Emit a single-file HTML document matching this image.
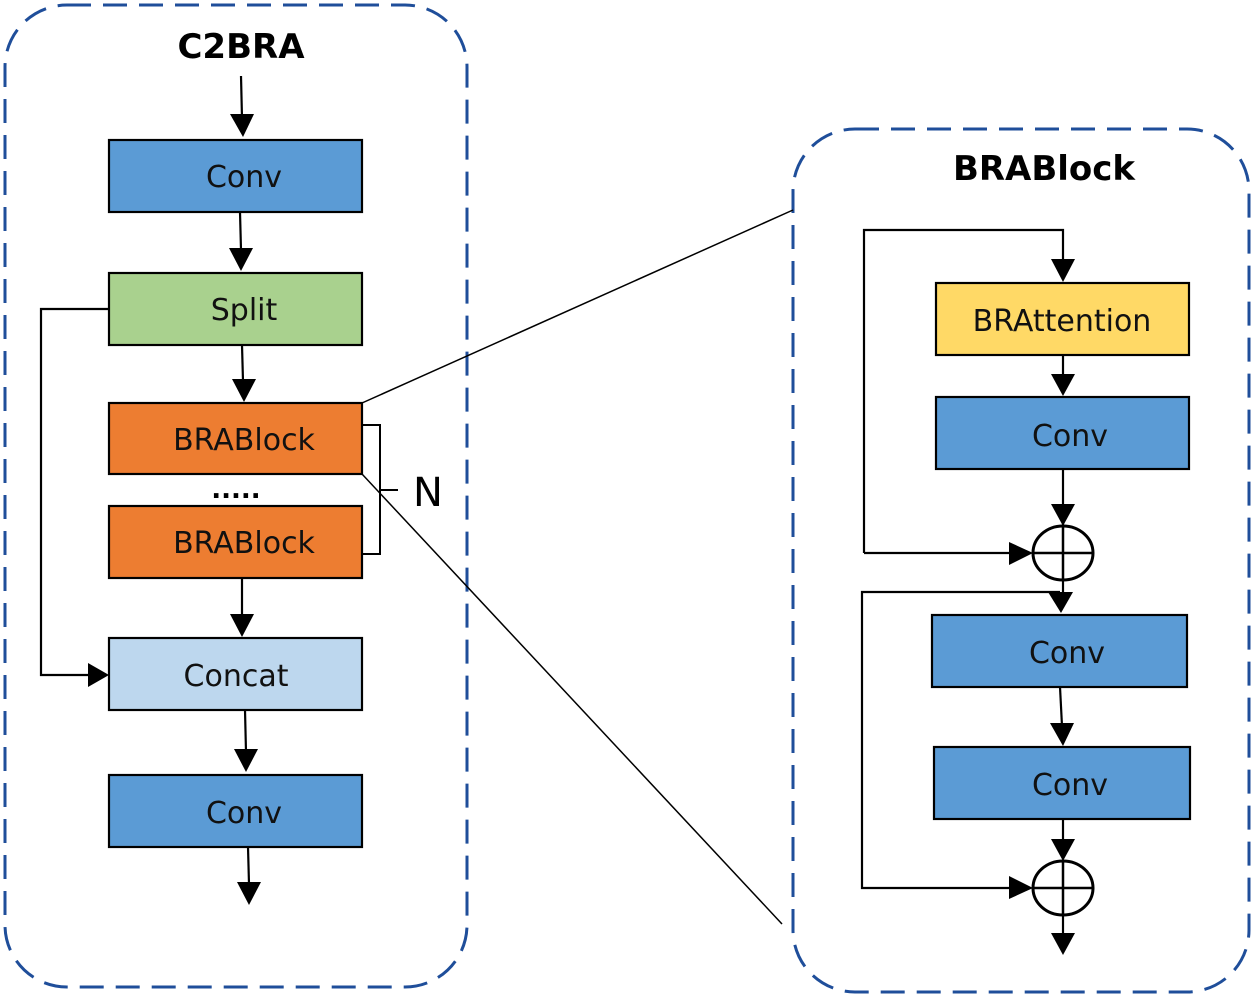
<!DOCTYPE html>
<html><head><meta charset="utf-8"><style>
html,body{margin:0;padding:0;background:#fff}
svg{display:block}
text{font-family:"DejaVu Sans","Liberation Sans",sans-serif}
</style></head><body>
<svg width="1255" height="999" viewBox="0 0 1255 999" xmlns="http://www.w3.org/2000/svg">
<g fill="none" stroke="#1f4e9a" stroke-width="3" stroke-dasharray="24,12">
<rect x="5" y="5" width="462" height="982" rx="62"/>
<rect x="793" y="129" width="456" height="863" rx="62"/>
</g>
<text x="241" y="58" font-size="34" font-weight="bold" text-anchor="middle">C2BRA</text>
<text x="1044" y="180" font-size="34" font-weight="bold" text-anchor="middle">BRABlock</text>
<g stroke="#000" stroke-width="1.5" fill="none">
<line x1="362" y1="403" x2="793" y2="210"/>
<line x1="362" y1="474" x2="782" y2="924"/>
</g>
<g stroke="#000" stroke-width="2.2">
<rect x="109" y="140" width="253" height="72" fill="#5b9bd5"/>
<rect x="109" y="273" width="253" height="72" fill="#a9d18e"/>
<rect x="109" y="403" width="253" height="71" fill="#ed7d31"/>
<rect x="109" y="506" width="253" height="72" fill="#ed7d31"/>
<rect x="109" y="638" width="253" height="72" fill="#bdd7ee"/>
<rect x="109" y="775" width="253" height="72" fill="#5b9bd5"/>
<rect x="936" y="283" width="253" height="72" fill="#ffd966"/>
<rect x="936" y="397" width="253" height="72" fill="#5b9bd5"/>
<rect x="932" y="615" width="255" height="72" fill="#5b9bd5"/>
<rect x="934" y="747" width="256" height="72" fill="#5b9bd5"/>
</g>
<g font-size="30" text-anchor="middle" fill="#111">
<text x="244" y="187">Conv</text>
<text x="244" y="320">Split</text>
<text x="244" y="450">BRABlock</text>
<text x="244" y="553">BRABlock</text>
<text x="236" y="686">Concat</text>
<text x="244" y="823">Conv</text>
<text x="1062" y="331">BRAttention</text>
<text x="1070" y="446">Conv</text>
<text x="1067" y="663">Conv</text>
<text x="1070" y="795">Conv</text>
</g>
<text x="236" y="498" font-size="26" font-weight="bold" text-anchor="middle">.....</text>
<text x="428" y="506" font-size="40" text-anchor="middle">N</text>
<path d="M362,425 H380 V554 H362 M380,490 H398" stroke="#000" stroke-width="2" fill="none"/>
<g stroke="#000" stroke-width="2.2" fill="none">
<line x1="241" y1="76" x2="242" y2="118"/>
<line x1="240" y1="212" x2="241" y2="250"/>
<line x1="242" y1="345" x2="243" y2="381"/>
<line x1="242" y1="578" x2="242" y2="616"/>
<line x1="245" y1="710" x2="246" y2="752"/>
<line x1="248" y1="847" x2="249" y2="884"/>
<path d="M109,309 H41 V675 H90"/>
<path d="M864,553 V230 H1063 V262"/>
<line x1="1063" y1="355" x2="1063" y2="377"/>
<line x1="1063" y1="469" x2="1063" y2="527"/>
<path d="M864,553 H1012"/>
<line x1="1063" y1="580" x2="1063" y2="596"/>
<path d="M1060,592 H862 V888 H1012"/>
<line x1="1060" y1="687" x2="1062" y2="726"/>
<line x1="1063" y1="819" x2="1063" y2="842"/>
<line x1="1063" y1="915" x2="1063" y2="935"/>
</g>
<ellipse cx="1063" cy="553" rx="30" ry="27" fill="none" stroke="#000" stroke-width="3"/>
<path d="M1033,553 H1093 M1063,526 V580" stroke="#000" stroke-width="2.5"/>
<ellipse cx="1063" cy="888" rx="30" ry="27" fill="none" stroke="#000" stroke-width="3"/>
<path d="M1033,888 H1093 M1063,861 V915" stroke="#000" stroke-width="2.5"/>
<g fill="#000">
<polygon points="230,114 254,114 243,137"/>
<polygon points="229,248 253,248 241,271"/>
<polygon points="232,379 256,379 244,402"/>
<polygon points="230,614 254,614 242,637"/>
<polygon points="234,749 258,749 246,772"/>
<polygon points="237,882 261,882 249,905"/>
<polygon points="88,663 88,687 109,675"/>
<polygon points="1051,259 1075,259 1063,282"/>
<polygon points="1051,374 1075,374 1063,396"/>
<polygon points="1051,504 1075,504 1063,526"/>
<polygon points="1009,542 1009,565 1033,553"/>
<polygon points="1048,592 1073,592 1061,613"/>
<polygon points="1050,723 1074,723 1063,746"/>
<polygon points="1051,839 1075,839 1063,861"/>
<polygon points="1009,876 1009,899 1033,888"/>
<polygon points="1051,933 1075,933 1063,955"/>
</g>
</svg>
</body></html>
